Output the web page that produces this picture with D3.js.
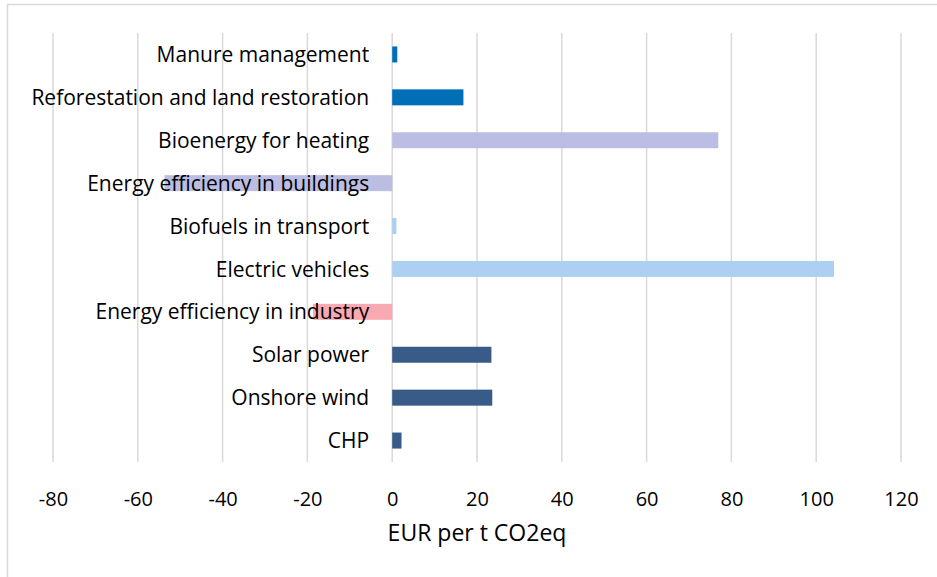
<!DOCTYPE html>
<html>
<head>
<meta charset="utf-8">
<script src="https://cdn.jsdelivr.net/npm/d3@7"></script>
<style>
  html, body { margin: 0; padding: 0; background: #fff; }
  svg { display: block; }
  text { font-family: "Open Sans", sans-serif; fill: #000; }
</style>
</head>
<body>
<div id="chart"></div>
<script>
// categories top to bottom
const categories = [
  "Manure management",
  "Reforestation and land restoration",
  "Bioenergy for heating",
  "Energy efficiency in buildings",
  "Biofuels in transport",
  "Electric vehicles",
  "Energy efficiency in industry",
  "Solar power",
  "Onshore wind",
  "CHP"
];
const values = [1.2, 16.8, 76.9, -53.7, 1.0, 104.2, -18.7, 23.4, 23.6, 2.2];
const colors = [
  "#006fb8", "#006fb8",
  "#bbbde2", "#bbbde2",
  "#adcff1", "#adcff1",
  "#f9a9b2",
  "#385b87", "#385b87", "#385b87"
];
const xTicks = [-80, -60, -40, -20, 0, 20, 40, 60, 80, 100, 120];
const xTitle = "EUR per t CO2eq";

const width = 937, height = 577;
const margin = {top: 33, right: 36, bottom: 115, left: 53};

const svg = d3.select("#chart").append("svg")
  .attr("width", width)
  .attr("height", height);

// outer chart border (only top and left visible)
svg.append("path")
  .attr("d", `M7.5,${height} V4.5 H${width}`)
  .attr("fill", "none")
  .attr("stroke", "#d9d9d9")
  .attr("stroke-width", 1.5);

const x = d3.scaleLinear()
  .domain([-80, 120])
  .range([margin.left, width - margin.right]);

const y = d3.scaleBand()
  .domain(categories)
  .range([margin.top, height - margin.bottom])
  .paddingInner(0.627)
  .paddingOuter(0.3135);

// vertical gridlines
svg.append("g")
  .selectAll("line")
  .data(xTicks)
  .join("line")
  .attr("x1", d => x(d))
  .attr("x2", d => x(d))
  .attr("y1", margin.top)
  .attr("y2", height - margin.bottom)
  .attr("stroke", "#d9d9d9")
  .attr("stroke-width", 1.5);

// bars
svg.append("g")
  .selectAll("rect")
  .data(categories)
  .join("rect")
  .attr("x", (d, i) => Math.min(x(0), x(values[i])))
  .attr("y", d => y(d))
  .attr("width", (d, i) => Math.abs(x(values[i]) - x(0)))
  .attr("height", y.bandwidth())
  .attr("fill", (d, i) => colors[i]);

// category labels (drawn on top of the bars, right-aligned left of zero)
svg.append("g")
  .selectAll("text")
  .data(categories)
  .join("text")
  .attr("x", x(0) - 23)
  .attr("y", d => y(d) + y.bandwidth() / 2)
  .attr("dy", "0.36em")
  .attr("text-anchor", "end")
  .attr("font-size", 21)
  .text(d => d);

// x axis tick labels
const xAxis = svg.append("g")
  .attr("transform", `translate(0, ${height - margin.bottom})`)
  .call(d3.axisBottom(x).tickValues(xTicks).tickSize(0).tickPadding(30).tickFormat(d => String(d)));
xAxis.select(".domain").remove();
xAxis.selectAll("text")
  .attr("font-size", 20)
  .attr("font-family", "'Open Sans', sans-serif")
  .attr("fill", "#000");

// axis title
svg.append("text")
  .attr("x", (x(-80) + x(120)) / 2)
  .attr("y", 541)
  .attr("text-anchor", "middle")
  .attr("font-size", 23)
  .text(xTitle);
</script>
</body>
</html>
